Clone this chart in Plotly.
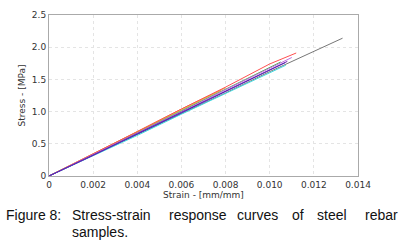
import plotly.graph_objects as go

# Strain points [mm/mm] and stress values [MPa]
strain_std = [0, 0.002, 0.004, 0.006, 0.008, 0.010]

red_strain = strain_std + [0.0112]
red_stress = [0, 0.34, 0.69, 1.04, 1.38, 1.74, 1.91]

orange_strain = [0, 0.002, 0.004, 0.006, 0.0080]
orange_stress = [0, 0.34, 0.69, 1.04, 1.37]

olive_strain = [0, 0.002, 0.004, 0.006, 0.0078]
olive_stress = [0, 0.34, 0.68, 1.03, 1.33]

green_strain = strain_std + [0.0105]
green_stress = [0, 0.33, 0.67, 1.01, 1.35, 1.69, 1.77]

violet_strain = strain_std + [0.0110]
violet_stress = [0, 0.33, 0.67, 1.00, 1.34, 1.67, 1.84]

purple_strain = strain_std + [0.0108]
purple_stress = [0, 0.32, 0.66, 0.99, 1.32, 1.65, 1.78]

blue_strain = strain_std + [0.0107]
blue_stress = [0, 0.32, 0.65, 0.98, 1.31, 1.64, 1.76]

cyan_strain = strain_std + [0.01073]
cyan_stress = [0, 0.31, 0.63, 0.96, 1.28, 1.60, 1.72]

gray_strain = strain_std + [0.012, 0.0133]
gray_stress = [0, 0.32, 0.65, 0.97, 1.29, 1.62, 1.93, 2.14]

x_ticks = [0, 0.002, 0.004, 0.006, 0.008, 0.010, 0.012, 0.014]
x_tick_labels = ["0", "0.002", "0.004", "0.006", "0.008", "0.010", "0.012", "0.014"]
y_ticks = [0, 0.5, 1.0, 1.5, 2.0, 2.5]
y_tick_labels = ["0", "0.5", "1.0", "1.5", "2.0", "2.5"]

caption_line1 = ["Figure 8:", "Stress-strain", "response", "curves", "of", "steel", "rebar"]
caption_line2 = ["samples."]

series = [
    (gray_strain, gray_stress, "#777777"),
    (olive_strain, olive_stress, "#c8c040"),
    (orange_strain, orange_stress, "#f0a040"),
    (green_strain, green_stress, "#50b050"),
    (red_strain, red_stress, "#ff5050"),
    (violet_strain, violet_stress, "#c070e0"),
    (cyan_strain, cyan_stress, "#40d8e0"),
    (blue_strain, blue_stress, "#3030c0"),
    (purple_strain, purple_stress, "#7020b0"),
]

fig = go.Figure()
for xs, ys, c in series:
    fig.add_trace(go.Scatter(x=xs, y=ys, mode="lines",
                             line=dict(color=c, width=1), showlegend=False))

# page coordinates of the plot area
L, R, T, B = 48.5, 358, 15, 176
W, H = 406, 249

def px(x):
    return (x - L) / (R - L)

def py(y):
    return (B - y) / (B - T)

axis_common = dict(showline=True, linecolor="#aaaaaa", linewidth=1, mirror=True,
                   showgrid=True, gridcolor="#e4e4e4", griddash="dot", gridwidth=1,
                   zeroline=False, ticks="", automargin=False,
                   tickfont=dict(family="DejaVu Sans", size=9, color="#333333"))

fig.update_layout(
    width=W, height=H,
    margin=dict(l=L, r=W - R, t=T, b=H - B),
    paper_bgcolor="white", plot_bgcolor="white",
    xaxis=dict(range=[0, 0.014], tickvals=x_ticks, ticktext=x_tick_labels,
               title=dict(text="Strain - [mm/mm]", font=dict(family="DejaVu Sans", size=9, color="#333333"),
                          standoff=2), **axis_common),
    yaxis=dict(range=[0, 2.5], tickvals=y_ticks, ticktext=y_tick_labels,
               title=dict(text="Stress - [MPa]", font=dict(family="DejaVu Sans", size=9, color="#333333"),
                          standoff=4), **axis_common),
)

line1_x = [3, 70, 167, 235, 290, 315, 363]
for word, x in zip(caption_line1, line1_x):
    fig.add_annotation(text=word, xref="paper", yref="paper", x=px(x), y=py(215),
                       xanchor="left", yanchor="middle", showarrow=False,
                       font=dict(family="Liberation Sans", size=14, color="#111111"))
for word, x in zip(caption_line2, [70]):
    fig.add_annotation(text=word, xref="paper", yref="paper", x=px(x), y=py(232),
                       xanchor="left", yanchor="middle", showarrow=False,
                       font=dict(family="Liberation Sans", size=14, color="#111111"))

fig.write_html("out.html", config={"displayModeBar": False},
               post_script="document.body.style.margin='0';")
